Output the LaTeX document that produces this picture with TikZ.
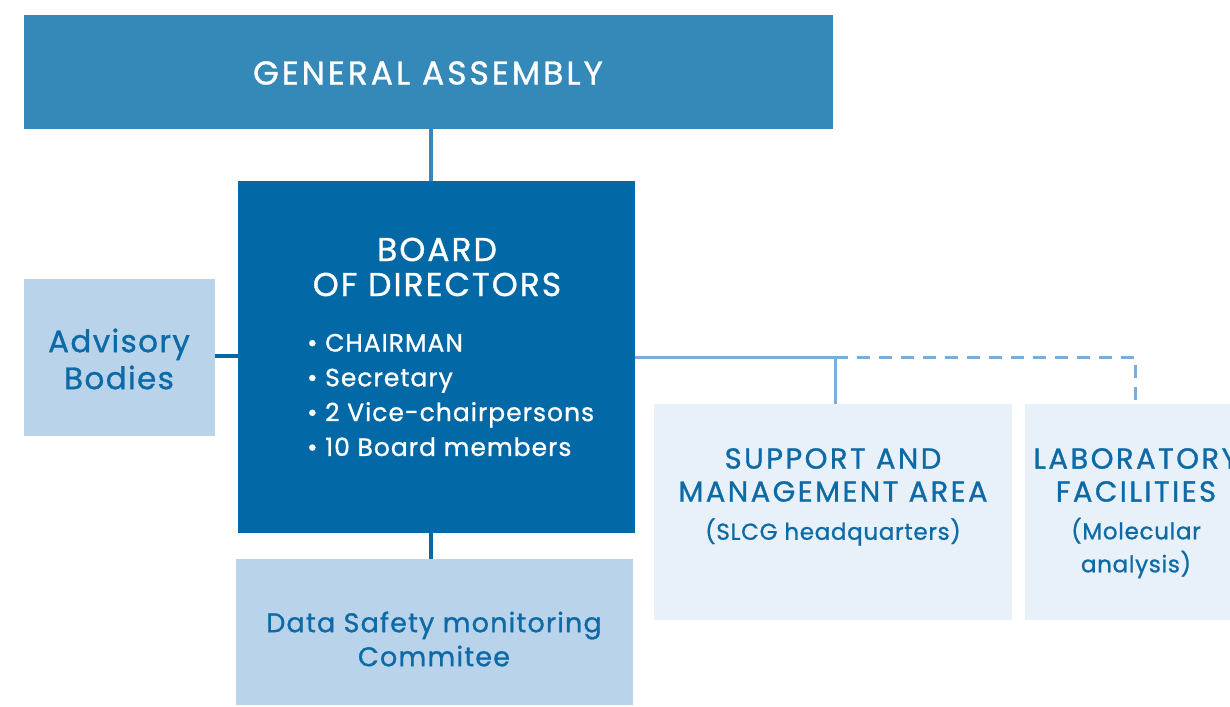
\documentclass[tikz,border=0pt]{standalone}
\usepackage{fontspec}
\setmainfont[FakeBold=1]{Poppins}
\newcommand{\ls}[1]{\addfontfeature{LetterSpace=#1}}
\definecolor{gablue}{HTML}{3489B9}
\definecolor{bdblue}{HTML}{0369A6}
\definecolor{ltblue}{HTML}{B9D4EA}
\definecolor{vlblue}{HTML}{E8F1F9}
\definecolor{lnblue}{HTML}{7AADD8}
\definecolor{txblue}{HTML}{0E6AA6}
\begin{document}
\begin{tikzpicture}[x=1pt,y=-1pt,
  box/.style={rectangle,inner sep=0pt,outer sep=0pt,anchor=center},
  txt/.style={inner sep=0pt,align=center,anchor=center},
  darkln/.style={draw=bdblue,line width=4pt},
  galn/.style={draw=gablue,line width=4pt},
  liteln/.style={draw=lnblue,line width=3pt},
  dashln/.style={draw=lnblue,line width=3pt,dash pattern=on 13pt off 9pt}]
\useasboundingbox (0,0) rectangle (1230,706);
\clip (0,0) rectangle (1230,706);
% boxes
\node[box,fill=gablue,minimum width=809pt,minimum height=114pt] (ga) at (428.5,72) {};
\node[box,fill=bdblue,minimum width=397pt,minimum height=352pt] (board) at (436.5,357) {};
\node[box,fill=ltblue,minimum width=191pt,minimum height=157pt] (adv) at (119.5,357.5) {};
\node[box,fill=ltblue,minimum width=397pt,minimum height=146pt] (dsmc) at (434.5,632) {};
\node[box,fill=vlblue,minimum width=358pt,minimum height=216pt] (sup) at (833,512) {};
\node[box,fill=vlblue,minimum width=222pt,minimum height=216pt] (lab) at (1136,512) {};
% texts
\node[txt,text=white,font=\fontsize{33}{34}\selectfont\ls{9}] (gat) at (428,73) {GENERAL ASSEMBLY};
\node[txt,text=white,font=\fontsize{33}{35}\selectfont\ls{6}] (bdt) at (437,267) {BOARD\\OF DIRECTORS};
\node[txt,text=white,font=\fontsize{25}{34.8}\selectfont\ls{4},align=left,anchor=west] (bdl) at (307,395)
  {\textbullet\ CHAIRMAN\\\textbullet\ Secretary\\\textbullet\ 2 Vice-chairpersons\\\textbullet\ 10 Board members};
\node[txt,text=txblue,font=\fontsize{31}{37}\selectfont\ls{4.5}] (advt) at (119,359) {Advisory\\Bodies};
\node[txt,text=txblue,font=\fontsize{27}{34}\selectfont\ls{4.4}] (dst) at (434,639) {Data Safety monitoring\\Commitee};
\node[txt,text=txblue,font=\fontsize{29}{33}\selectfont\ls{8.5}] (supt) at (833,475) {SUPPORT AND\\MANAGEMENT AREA};
\node[txt,text=txblue,font=\fontsize{23}{24}\selectfont\ls{3}] (sups) at (833,532) {(SLCG headquarters)};
\node[txt,text=txblue,font=\fontsize{29}{33}\selectfont\ls{8.5}] (labt) at (1136,475) {LABORATORY\\FACILITIES};
\node[txt,text=txblue,font=\fontsize{23}{33}\selectfont\ls{3}] (labs) at (1136,548) {(Molecular\\analysis)};
% connectors
\coordinate (vx) at (431,0);
\coordinate (j) at (835,357);
\coordinate (lx) at (1135,357);
\draw[galn] (ga.south -| vx) -- (board.north -| vx);
\draw[darkln] (board.south -| vx) -- (dsmc.north -| vx);
\draw[darkln] (adv.east |- 0,356) -- (board.west |- 0,356);
\draw[liteln] (board.east |- j) -- (j) -- (sup.north -| j);
\draw[dashln] (j) -- (lx) -- (lab.north -| lx);
\end{tikzpicture}
\end{document}
